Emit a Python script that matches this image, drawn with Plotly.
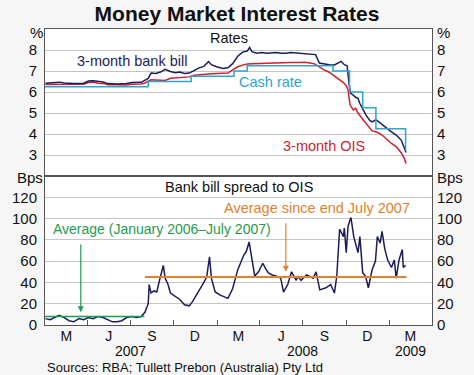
import plotly.graph_objects as go

# ---------------- data ----------------
bill_dates = ['2007-01-02','2007-01-21','2007-01-31','2007-02-11','2007-03-03','2007-03-24','2007-04-03',
              '2007-04-13','2007-04-23','2007-05-04','2007-05-14','2007-06-03','2007-06-23','2007-07-04',
              '2007-07-24','2007-08-01','2007-08-08','2007-08-14','2007-08-24','2007-09-03','2007-09-13',
              '2007-09-24','2007-10-04','2007-10-14','2007-10-24','2007-11-03','2007-11-14','2007-11-24',
              '2007-12-04','2007-12-14','2007-12-20','2007-12-31','2008-01-14','2008-01-24','2008-02-03',
              '2008-02-14','2008-02-24','2008-03-05','2008-03-10','2008-03-15','2008-03-25','2008-04-05',
              '2008-04-15','2008-04-25','2008-05-05','2008-05-15','2008-05-26','2008-06-05','2008-06-15',
              '2008-06-25','2008-07-05','2008-07-16','2008-07-28','2008-08-05','2008-08-15','2008-08-26',
              '2008-09-05','2008-09-15','2008-09-20','2008-09-27','2008-10-03','2008-10-07','2008-10-10',
              '2008-10-16','2008-10-21','2008-10-26','2008-10-30','2008-11-05','2008-11-12','2008-11-20',
              '2008-11-25','2008-12-03','2008-12-10','2008-12-16','2008-12-26','2009-01-05','2009-01-15',
              '2009-01-26','2009-01-31','2009-02-05']
bill_vals = [6.42,6.44,6.47,6.43,6.40,6.42,6.52,
             6.54,6.50,6.48,6.40,6.38,6.40,6.45,
             6.46,6.55,6.65,6.90,6.88,6.95,7.08,
             6.98,6.92,6.95,6.88,6.90,7.05,7.15,
             7.22,7.45,7.30,7.20,7.12,7.15,7.35,
             7.70,7.90,7.95,8.12,7.92,7.85,7.88,
             7.85,7.86,7.88,7.85,7.84,7.88,7.86,
             7.84,7.85,7.82,7.78,7.38,7.33,7.30,
             7.28,7.38,7.46,7.30,7.25,6.40,5.95,
             5.85,5.75,5.70,5.45,5.20,4.90,4.65,
             4.58,4.68,4.55,4.45,4.28,4.10,3.95,
             3.70,3.40,3.12]

ois_dates = ['2007-01-02','2007-01-21','2007-01-31','2007-02-11','2007-03-03','2007-03-24','2007-04-03',
             '2007-04-13','2007-04-23','2007-05-04','2007-05-14','2007-06-03','2007-06-23','2007-07-04',
             '2007-07-24','2007-08-01','2007-08-08','2007-08-14','2007-08-24','2007-09-03','2007-09-13',
             '2007-09-24','2007-10-04','2007-10-14','2007-10-24','2007-11-03','2007-11-14','2007-11-24',
             '2007-12-04','2007-12-14','2007-12-31','2008-01-14','2008-01-24','2008-02-03','2008-02-14',
             '2008-02-24','2008-03-05','2008-03-15','2008-04-05','2008-05-05','2008-06-05','2008-06-25',
             '2008-07-05','2008-07-16','2008-07-26','2008-08-05','2008-08-15','2008-08-26','2008-09-05',
             '2008-09-15','2008-09-25','2008-10-01','2008-10-05','2008-10-09','2008-10-16','2008-10-21',
             '2008-10-26','2008-11-05','2008-11-15','2008-11-25','2008-12-06','2008-12-16','2008-12-26',
             '2009-01-05','2009-01-15','2009-01-26','2009-02-01','2009-02-05']
ois_vals = [6.36,6.37,6.38,6.36,6.37,6.37,6.45,
            6.48,6.42,6.41,6.35,6.35,6.33,6.37,
            6.38,6.43,6.50,6.58,6.57,6.55,6.55,
            6.65,6.66,6.70,6.68,6.72,6.80,6.83,
            6.85,6.86,6.88,6.88,6.90,7.05,7.20,
            7.28,7.33,7.34,7.36,7.38,7.40,7.40,
            7.42,7.38,7.34,7.20,7.05,6.94,6.78,
            6.65,6.45,6.30,6.10,5.40,5.15,5.22,
            5.00,4.70,4.40,4.15,4.08,3.95,3.75,
            3.55,3.40,3.10,2.85,2.60]

cash_dates = ['2007-01-01','2007-08-08','2007-11-07','2008-02-06','2008-03-05','2008-09-03',
              '2008-10-08','2008-11-05','2008-12-03','2009-02-04','2009-02-05']
cash_vals = [6.25,6.50,6.75,7.00,7.25,7.00,6.00,5.25,4.25,3.25,3.25]

spread_dates = ['2007-01-02','2007-01-12','2007-01-21','2007-01-31','2007-02-11','2007-02-21','2007-03-03',
                '2007-03-14','2007-03-24','2007-04-03','2007-04-13','2007-04-23','2007-05-04','2007-05-14',
                '2007-05-24','2007-06-03','2007-06-13','2007-06-23','2007-07-04','2007-07-14','2007-07-24',
                '2007-08-01','2007-08-08','2007-08-10','2007-08-14','2007-08-20','2007-08-26','2007-09-01',
                '2007-09-06','2007-09-09','2007-09-13','2007-09-19','2007-09-24','2007-10-04','2007-10-14',
                '2007-10-24','2007-11-03','2007-11-10','2007-11-17','2007-11-27','2007-12-04','2007-12-10',
                '2007-12-16','2007-12-20','2007-12-28','2008-01-08','2008-01-18','2008-01-24','2008-02-03',
                '2008-02-14','2008-02-27','2008-03-03','2008-03-09','2008-03-15','2008-03-21','2008-03-29',
                '2008-04-07','2008-04-13','2008-04-19','2008-04-27','2008-05-05','2008-05-15','2008-05-21',
                '2008-05-30','2008-06-07','2008-06-17','2008-06-21','2008-06-27','2008-07-09','2008-07-23',
                '2008-07-29','2008-08-06','2008-08-19','2008-08-29','2008-09-06','2008-09-11','2008-09-17',
                '2008-09-25','2008-09-27','2008-10-01','2008-10-05','2008-10-11','2008-10-17','2008-10-26',
                '2008-10-30','2008-11-05','2008-11-11','2008-11-17','2008-11-25','2008-12-02','2008-12-06',
                '2008-12-12','2008-12-16','2008-12-22','2008-12-28','2009-01-05','2009-01-11','2009-01-15',
                '2009-01-21','2009-01-28','2009-01-30','2009-02-04']
spread_vals = [6,5,7,9,7,4,3,
               6,5,7,6,8,7,5,
               3,3,4,7,8,7,8,
               12,20,38,30,32,31,42,
               52,56,44,38,30,27,24,
               19,18,22,27,35,40,45,
               64,44,31,28,26,25,34,
               52,66,69,78,61,46,50,
               58,53,49,47,46,44,31,
               38,50,42,46,42,47,44,
               50,33,35,38,30,46,90,
               83,91,68,93,101,83,68,
               83,49,46,35,52,60,83,
               77,88,71,61,54,61,44,
               61,71,54,56]

avg_pre_dates = ['2007-01-01', '2007-07-31']
avg_pre_vals = [8, 8]
avg_post_dates = ['2007-08-01', '2009-02-06']
avg_post_vals = [45, 45]

quarter_ticks = ['2007-04-01','2007-07-01','2007-10-01','2008-01-01','2008-04-01',
                 '2008-07-01','2008-10-01','2009-01-01']
quarter_label_dates = ['2007-02-15','2007-05-16','2007-08-16','2007-11-15','2008-02-15',
                       '2008-05-16','2008-08-16','2008-11-15','2009-02-14']
quarter_labels = ['M','J','S','D','M','J','S','D','M']
year_label_dates = ['2007-07-01','2008-07-01','2009-02-14']
year_labels = ['2007','2008','2009']
rate_ticks = [3,4,5,6,7,8]
bps_ticks = [0,20,40,60,80,100,120]

# ---------------- styling ----------------
FONT = 'Arial, Liberation Sans, sans-serif'
NAVY = '#1c1c5c'
RED = '#d01f2e'
CYAN = '#2ba6d2'
GREEN = '#1f9a4e'
ORANGE = '#e4812f'
FRAME = '#555555'
GRID = '#c4c4c4'
XR = ['2007-01-01', '2009-04-01']

def py(Y):
    return (325 - Y) / 296.0

def px(X):
    return (X - 35) / 402.0

split = py(176)

fig = go.Figure()
# top panel
fig.add_trace(go.Scatter(x=ois_dates, y=ois_vals, mode='lines', line=dict(color=RED, width=1.5),
                         xaxis='x2', yaxis='y', hoverinfo='skip'))
fig.add_trace(go.Scatter(x=bill_dates, y=bill_vals, mode='lines', line=dict(color=NAVY, width=1.5),
                         xaxis='x2', yaxis='y', hoverinfo='skip'))
fig.add_trace(go.Scatter(x=cash_dates, y=cash_vals, mode='lines', line=dict(color=CYAN, width=1.5, shape='hv'),
                         xaxis='x2', yaxis='y', hoverinfo='skip'))
fig.add_trace(go.Scatter(x=[], y=[], xaxis='x2', yaxis='y3', hoverinfo='skip'))
# bottom panel
fig.add_trace(go.Scatter(x=spread_dates, y=spread_vals, mode='lines', line=dict(color=NAVY, width=1.5),
                         xaxis='x', yaxis='y2', hoverinfo='skip'))
fig.add_trace(go.Scatter(x=avg_pre_dates, y=avg_pre_vals, mode='lines', line=dict(color=GREEN, width=1.5),
                         xaxis='x', yaxis='y2', hoverinfo='skip'))
fig.add_trace(go.Scatter(x=avg_post_dates, y=avg_post_vals, mode='lines', line=dict(color=ORANGE, width=2),
                         xaxis='x', yaxis='y2', hoverinfo='skip'))
fig.add_trace(go.Scatter(x=[], y=[], xaxis='x', yaxis='y4', hoverinfo='skip'))
fig.add_trace(go.Scatter(x=[], y=[], xaxis='x3', yaxis='y2', hoverinfo='skip'))

tickfont = dict(family=FONT, size=15, color='#111111')
xtickfont = dict(family=FONT, size=14, color='#111111')

fig.update_layout(
    width=474, height=375,
    margin=dict(l=35, r=37, t=29, b=50),
    paper_bgcolor='#f6f6f6', plot_bgcolor='#ffffff',
    showlegend=False,
    font=dict(family=FONT, color='#111111'),
    title=dict(text='<b>Money Market Interest Rates</b>', x=0.5, xanchor='center',
               y=1 - 14 / 375, yanchor='middle', font=dict(family=FONT, size=21, color='#111111')),
    xaxis=dict(domain=[0, 1], anchor='y2', type='date', range=XR, tickmode='array', tickvals=quarter_ticks,
               ticks='inside', ticklen=5, tickcolor=FRAME, showticklabels=False, showline=True,
               linecolor=FRAME, linewidth=1, mirror=True, showgrid=False, zeroline=False),
    xaxis2=dict(domain=[0, 1], anchor='y', type='date', range=XR, showticklabels=False, ticks='',
                showline=True, linecolor=FRAME, linewidth=1, mirror=True, showgrid=False, zeroline=False),
    xaxis3=dict(overlaying='x', anchor='y2', type='date', range=XR, tickmode='array',
                tickvals=quarter_label_dates, ticktext=quarter_labels, ticks='', showline=False,
                showgrid=False, zeroline=False, tickfont=xtickfont, side='bottom', ticklabelstandoff=1),
    yaxis=dict(domain=[split, 1], anchor='x2', range=[2, 9], tickmode='array', tickvals=rate_ticks,
               showgrid=True, gridcolor=GRID, gridwidth=1, showline=True, linecolor=FRAME, mirror=True,
               ticks='', zeroline=False, tickfont=tickfont, ticklabelstandoff=4),
    yaxis3=dict(overlaying='y', side='right', anchor='x2', range=[2, 9], tickmode='array', tickvals=rate_ticks,
                showgrid=False, showline=False, ticks='', zeroline=False, tickfont=tickfont, ticklabelstandoff=4),
    yaxis2=dict(domain=[0, split], anchor='x', range=[0, 140], tickmode='array', tickvals=bps_ticks,
                showgrid=True, gridcolor=GRID, gridwidth=1, showline=True, linecolor=FRAME, mirror=True,
                ticks='', zeroline=False, tickfont=tickfont, ticklabelstandoff=4),
    yaxis4=dict(overlaying='y2', side='right', anchor='x', range=[0, 140], tickmode='array', tickvals=bps_ticks,
                showgrid=False, showline=False, ticks='', zeroline=False, tickfont=tickfont, ticklabelstandoff=4),
)

ann = []
def txt(text, x, y, color='#111111', size=14.5, xanchor='center', xref='paper'):
    ann.append(dict(text=text, x=x, y=py(y), xref=xref, yref='paper', showarrow=False,
                    xanchor=xanchor, yanchor='middle', font=dict(family=FONT, size=size, color=color)))

txt('%', px(26), 33, size=15)
txt('%', px(449), 33, size=15)
txt('Bps', px(19), 177, size=15)
txt('Bps', px(456), 177, size=15)
txt('Rates', px(226), 38)
txt('Bank bill spread to OIS', px(236), 187)
txt('3-month bank bill', px(125), 61, color=NAVY)
txt('Cash rate', px(269), 82, color=CYAN)
txt('3-month OIS', px(325), 146, color=RED)
txt('Average (January 2006\u2013July 2007)', px(157), 229, color=GREEN, size=14)
txt('Average since end July 2007', px(318), 208, color=ORANGE)
for d, lab in zip(year_label_dates, year_labels):
    ann.append(dict(text=lab, x=d, y=py(351), xref='x', yref='paper', showarrow=False,
                    xanchor='center', yanchor='middle', font=dict(family=FONT, size=14, color='#111111')))
txt('Sources: RBA; Tullett Prebon (Australia) Pty Ltd', px(35), 367, size=13, xanchor='left')

# arrows
ann.append(dict(x='2007-03-18', y=12, ax='2007-03-18', ay=77, xref='x', yref='y2', axref='x', ayref='y2',
                text='', showarrow=True, arrowhead=2, arrowsize=1, arrowwidth=1.2, arrowcolor=GREEN))
ann.append(dict(x='2008-05-26', y=50, ax='2008-05-26', ay=97, xref='x', yref='y2', axref='x', ayref='y2',
                text='', showarrow=True, arrowhead=2, arrowsize=1, arrowwidth=1.2, arrowcolor=ORANGE))

fig.update_layout(annotations=ann)
fig.write_html('out.html', config={'displayModeBar': False},
               post_script="document.body.style.margin='0';document.body.style.padding='0';")
